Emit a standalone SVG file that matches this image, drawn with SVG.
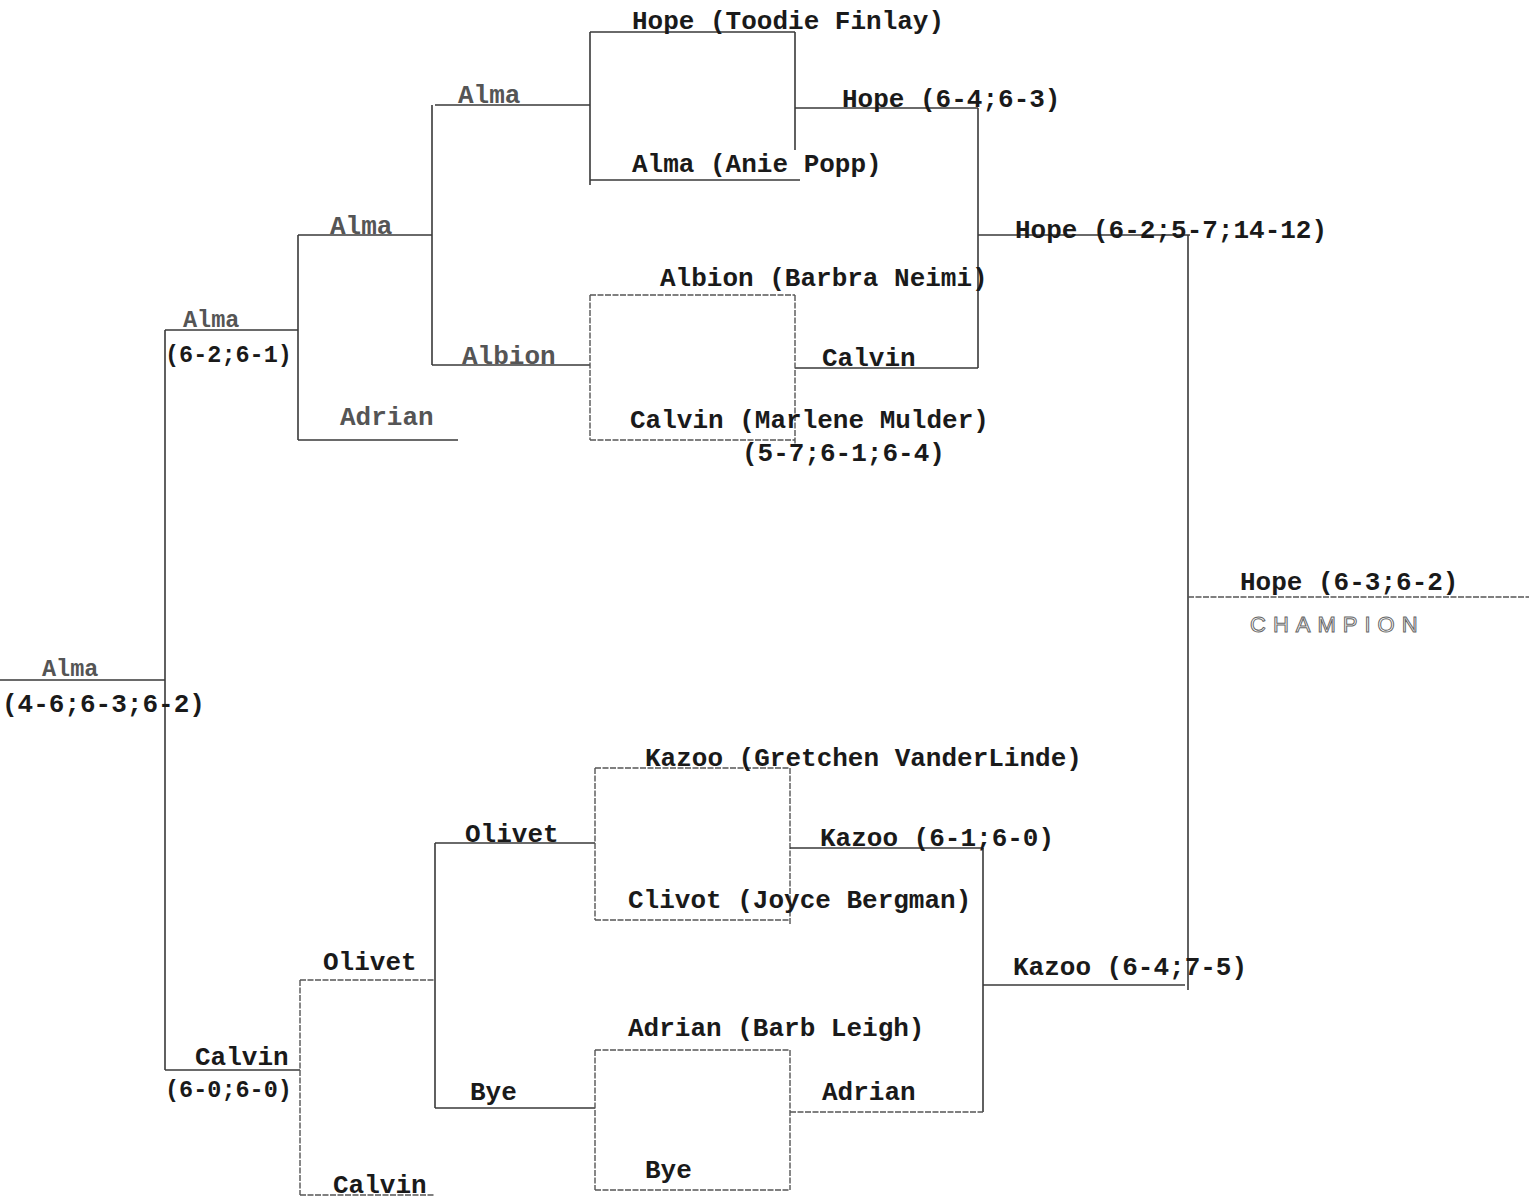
<svg xmlns="http://www.w3.org/2000/svg" width="1529" height="1203" viewBox="0 0 1529 1203">
<style>
.t{font-family:"Liberation Mono","DejaVu Sans Mono",monospace;font-size:26px;font-weight:bold;fill:#1a1a1a}
.s{font-size:23.5px}
.f{fill:#555}
.c{fill:none;stroke:#3a3a3a;stroke-width:1.6}
.d{fill:none;stroke:#555;stroke-width:1.4;stroke-dasharray:6 1.5}
.ch{font-family:"Liberation Sans","DejaVu Sans",sans-serif;font-size:22px;fill:none;stroke:#666;stroke-width:1;letter-spacing:7px}
</style>
<rect width="1529" height="1203" fill="#fff"/>
<g id="connectors">
<path class="c" d="M590,32H795M590,32V185M795,32V150M590,180H800"/>
<path class="c" d="M435,105H590M432,105V365M432,365H590"/>
<path class="c" d="M795,108H978M978,108V368M795,368H978"/>
<path class="d" d="M590,295H795M590,295V440M590,440H795M795,295V447"/>
<path class="c" d="M298,235H432M298,235V440M298,440H458"/>
<path class="c" d="M978,235H1190M1188,235V990"/>
<path class="c" d="M165,330H298M165,330V1070M0,680H165M165,1070H300"/>
<path class="d" d="M300,980H435M300,980V1195M300,1195H435"/>
<path class="c" d="M435,843H595M435,843V1108M435,1108H595"/>
<path class="d" d="M595,768H790M595,768V920M595,920H790M790,768V925"/>
<path class="c" d="M790,848H983M983,848V1112"/>
<path class="d" d="M790,1112H983"/>
<path class="c" d="M983,985H1185"/>
<path class="d" d="M595,1050H790M595,1050V1190M595,1190H790M790,1050V1190"/>
<path class="d" d="M1188,597H1529"/>
</g>
<g id="r1-hope"><text class="t" x="632" y="29">Hope (Toodie Finlay)</text></g>
<g id="r1-alma"><text class="t" x="632" y="172">Alma (Anie Popp)</text></g>
<g id="r1-albion"><text class="t" x="660" y="286">Albion (Barbra Neimi)</text></g>
<g id="r1-calvin"><text class="t" x="630" y="428">Calvin (Marlene Mulder)</text><text class="t" x="742" y="461">(5-7;6-1;6-4)</text></g>
<g id="r1-kazoo"><text class="t" x="645" y="766">Kazoo (Gretchen VanderLinde)</text></g>
<g id="r1-olivet"><text class="t" x="628" y="908">Clivot (Joyce Bergman)</text></g>
<g id="r1-adrian"><text class="t" x="628" y="1036">Adrian (Barb Leigh)</text></g>
<g id="r1-bye"><text class="t" x="645" y="1178">Bye</text></g>
<g id="r2-alma"><text class="t f" x="458" y="103">Alma</text></g>
<g id="r2-albion"><text class="t f" x="462" y="364">Albion</text></g>
<g id="r2-hope"><text class="t" x="842" y="107">Hope (6-4;6-3)</text></g>
<g id="r2-calvin"><text class="t" x="822" y="366">Calvin</text></g>
<g id="r2-olivet"><text class="t" x="465" y="842">Olivet</text></g>
<g id="r2-bye"><text class="t" x="470" y="1100">Bye</text></g>
<g id="r2-kazoo"><text class="t" x="820" y="846">Kazoo (6-1;6-0)</text></g>
<g id="r2-adrian"><text class="t" x="822" y="1100">Adrian</text></g>
<g id="r3-alma"><text class="t f" x="330" y="234">Alma</text></g>
<g id="r3-adrian"><text class="t f" x="340" y="425">Adrian</text></g>
<g id="r3-olivet"><text class="t" x="323" y="970">Olivet</text></g>
<g id="r3-calvin"><text class="t" x="333" y="1193">Calvin</text></g>
<g id="r3-hope"><text class="t" x="1015" y="238">Hope (6-2;5-7;14-12)</text></g>
<g id="r3-kazoo"><text class="t" x="1013" y="975">Kazoo (6-4;7-5)</text></g>
<g id="sf-alma"><text class="t f s" x="183" y="327">Alma</text><text class="t s" x="165" y="362">(6-2;6-1)</text></g>
<g id="sf-calvin"><text class="t" x="195" y="1065">Calvin</text><text class="t s" x="165" y="1097">(6-0;6-0)</text></g>
<g id="final-alma"><text class="t f s" x="42" y="676">Alma</text><text class="t" x="2" y="712">(4-6;6-3;6-2)</text></g>
<g id="champion"><text class="t" x="1240" y="590">Hope (6-3;6-2)</text><text class="ch" x="1250" y="632">CHAMPION</text></g>
</svg>
